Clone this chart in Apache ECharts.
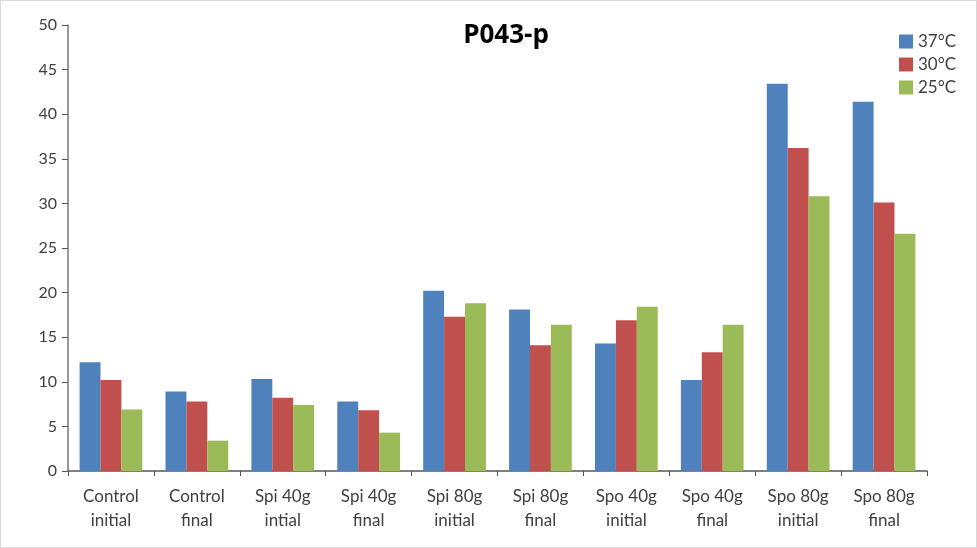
<!DOCTYPE html>
<html><head><meta charset="utf-8">
<script src="https://cdn.jsdelivr.net/npm/echarts@6/dist/echarts.min.js"></script>
<style>html,body{margin:0;padding:0;background:#fff}#c{width:977px;height:548px;box-sizing:border-box;border:1px solid #d8d8d8}</style>
</head><body><div id="c"></div>
<script>
const categories = ["Control\ninitial","Control\nfinal","Spi 40g\nintial","Spi 40g\nfinal","Spi 80g\ninitial","Spi 80g\nfinal","Spo 40g\ninitial","Spo 40g\nfinal","Spo 80g\ninitial","Spo 80g\nfinal"];
const seriesNames = ["37°C","30°C","25°C"];
const s37 = [12.2, 8.9, 10.3, 7.8, 20.2, 18.1, 14.3, 10.2, 43.4, 41.4];
const s30 = [10.2, 7.8, 8.2, 6.8, 17.3, 14.1, 16.9, 13.3, 36.2, 30.1];
const s25 = [6.9, 3.4, 7.4, 4.3, 18.8, 16.4, 18.4, 16.4, 30.8, 26.6];
const yTicks = [0,5,10,15,20,25,30,35,40,45,50];
const colors = ["#4F81BD","#C0504D","#9BBB59"];
const font = "Lato, 'Open Sans', sans-serif";
const chart = echarts.init(document.getElementById('c'));
chart.setOption({
  animation:false,
  title:{text:"P043-p",left:500,top:17,textAlign:'center',textStyle:{fontFamily:"'Open Sans', sans-serif",fontWeight:'bold',fontSize:26,color:'#000'}},
  legend:{orient:'vertical',left:893,top:27,itemWidth:14,itemHeight:14,itemGap:6,icon:'rect',
    textStyle:{fontFamily:font,fontSize:17,color:'#404040'},data:seriesNames},
  grid:{left:67,right:49,top:24,bottom:76},
  xAxis:{type:'category',data:categories,
    axisLine:{lineStyle:{color:'#555',width:1.5}},
    axisTick:{show:true,length:5,lineStyle:{color:'#555'}},
    axisLabel:{fontFamily:font,fontSize:17,color:'#404040',lineHeight:24,margin:14,interval:0}},
  yAxis:{type:'value',min:yTicks[0],max:yTicks[yTicks.length-1],interval:5,
    axisLine:{show:true,lineStyle:{color:'#777',width:1.5}},
    axisTick:{show:true,inside:false,length:6,lineStyle:{color:'#555'}},
    splitLine:{show:false},
    axisLabel:{fontFamily:font,fontSize:16,color:'#404040',margin:11}},
  series:[s37,s30,s25].map((d,i)=>({name:seriesNames[i],type:'bar',data:d,barGap:'0%',barCategoryGap:'27%',itemStyle:{color:colors[i]}}))
});
</script></body></html>
